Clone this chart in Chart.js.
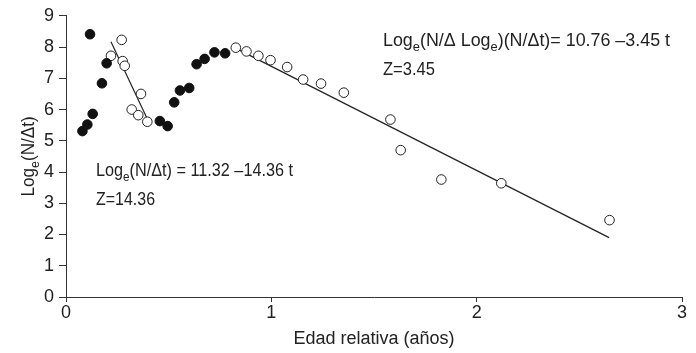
<!DOCTYPE html>
<html>
<head>
<meta charset="utf-8">
<script src="https://cdn.jsdelivr.net/npm/chart.js@4"></script>
<style>
  html, body { margin: 0; padding: 0; background: #fff; }
  #wrap { width: 696px; height: 353px; }
</style>
</head>
<body>
<div id="wrap"><canvas id="chart" width="696" height="353"></canvas></div>
<script>
const FONT = "'Liberation Sans Narrow', 'Arial Narrow', 'Liberation Sans', sans-serif";

// filled points (black)
const filledX = [0.08, 0.104, 0.13, 0.117, 0.175, 0.198, 0.457, 0.495, 0.527, 0.555, 0.60, 0.636, 0.675, 0.723, 0.775];
const filledY = [5.31, 5.52, 5.86, 8.41, 6.84, 7.48, 5.63, 5.47, 6.23, 6.61, 6.69, 7.45, 7.62, 7.83, 7.80];

// open points, first descending group
const open1X = [0.219, 0.271, 0.276, 0.286, 0.365, 0.32, 0.352, 0.396];
const open1Y = [7.72, 8.23, 7.55, 7.40, 6.50, 6.00, 5.82, 5.61];

// open points, second descending group
const open2X = [0.827, 0.879, 0.937, 0.996, 1.077, 1.155, 1.242, 1.353, 1.58, 1.63, 1.828, 2.12, 2.647];
const open2Y = [7.98, 7.86, 7.72, 7.58, 7.36, 6.96, 6.83, 6.54, 5.68, 4.70, 3.76, 3.64, 2.46];

// regression lines (end points)
const line1X = [0.219, 0.396];
const line1Y = [8.17, 5.70];
const line2X = [0.83, 2.645];
const line2Y = [7.95, 1.90];

const xTicks = [0, 1, 2, 3];
const yTicks = [0, 1, 2, 3, 4, 5, 6, 7, 8, 9];

function pts(xs, ys) {
  return xs.map((x, i) => ({ x: x, y: ys[i] }));
}

function richWidth(ctx, parts) {
  let w = 0;
  parts.forEach((p) => {
    ctx.font = p.sub ? "13px " + FONT : "18px " + FONT;
    w += ctx.measureText(p.t).width;
  });
  return w;
}

// draws text pieces, pieces marked sub are drawn smaller and lowered
// if fitW is given the text is squeezed to that width (source uses a narrow face)
function drawRich(ctx, parts, x, y, fitW) {
  const sx = fitW ? fitW / richWidth(ctx, parts) : 1;
  ctx.save();
  ctx.translate(x, y);
  ctx.scale(sx, 1);
  let cx = 0;
  parts.forEach((p) => {
    ctx.font = p.sub ? "13px " + FONT : "18px " + FONT;
    ctx.fillText(p.t, cx, p.sub ? 5 : 0);
    cx += ctx.measureText(p.t).width;
  });
  ctx.restore();
}

const textPlugin = {
  id: "texts",
  afterDraw(chart) {
    const ctx = chart.ctx;
    ctx.save();
    ctx.fillStyle = "#222";
    ctx.textBaseline = "alphabetic";
    ctx.textAlign = "left";

    drawRich(ctx, [{ t: "Log" }, { t: "e", sub: true }, { t: "(N/\u0394t) = 11.32 \u201314.36 t" }], 96, 176, 197);
    drawRich(ctx, [{ t: "Z=14.36" }], 96, 205, 59);

    drawRich(ctx, [{ t: "Log" }, { t: "e", sub: true }, { t: "(N/\u0394 Log" }, { t: "e", sub: true },
      { t: ")(N/\u0394t)= 10.76 \u20133.45 t" }], 383, 46, 287);
    drawRich(ctx, [{ t: "Z=3.45" }], 383, 75, 52);

    // y axis title with subscript
    const yt = [{ t: "Log" }, { t: "e", sub: true }, { t: "(N/\u0394t)" }];
    const a = chart.chartArea;
    const w = 80;
    ctx.translate(34, (a.top + a.bottom) / 2 + w / 2);
    ctx.rotate(-Math.PI / 2);
    drawRich(ctx, yt, 0, 0, w);
    ctx.restore();
  }
};

new Chart(document.getElementById("chart"), {
  type: "scatter",
  data: {
    datasets: [
      { data: pts(filledX, filledY), pointRadius: 4.8, pointBackgroundColor: "#111", pointBorderColor: "#111", pointBorderWidth: 1 },
      { data: pts(open1X, open1Y), pointRadius: 4.8, pointBackgroundColor: "#fff", pointBorderColor: "#222", pointBorderWidth: 1 },
      { data: pts(open2X, open2Y), pointRadius: 4.8, pointBackgroundColor: "#fff", pointBorderColor: "#222", pointBorderWidth: 1 },
      { type: "line", data: pts(line1X, line1Y), showLine: true, borderColor: "#222", borderWidth: 1.2, pointRadius: 0, fill: false },
      { type: "line", data: pts(line2X, line2Y), showLine: true, borderColor: "#222", borderWidth: 1.2, pointRadius: 0, fill: false }
    ]
  },
  options: {
    responsive: false,
    animation: false,
    layout: { padding: { top: 14, right: 14, left: 0, bottom: 0 } },
    plugins: { legend: { display: false }, tooltip: { enabled: false } },
    scales: {
      x: {
        type: "linear",
        min: 0,
        max: 3,
        afterBuildTicks: (s) => { s.ticks = xTicks.map((v) => ({ value: v })); },
        afterFit: (s) => { s.height = 56; },
        grid: { drawOnChartArea: false, drawTicks: true, tickLength: 5, color: "#333" },
        border: { color: "#333", width: 1 },
        ticks: { color: "#222", font: { family: FONT, size: 18 }, padding: 0 },
        title: { display: true, text: "Edad relativa (a\u00f1os)", color: "#222", font: { family: FONT, size: 18 }, padding: { top: 0, bottom: 3 } }
      },
      y: {
        min: 0,
        max: 9,
        afterBuildTicks: (s) => { s.ticks = yTicks.map((v) => ({ value: v })); },
        afterFit: (s) => { s.width = 66; },
        grid: { drawOnChartArea: false, drawTicks: true, tickLength: 7, color: "#333" },
        border: { color: "#333", width: 1 },
        ticks: { color: "#222", font: { family: FONT, size: 18 }, padding: 5 }
      }
    }
  },
  plugins: [textPlugin]
});
</script>
</body>
</html>
